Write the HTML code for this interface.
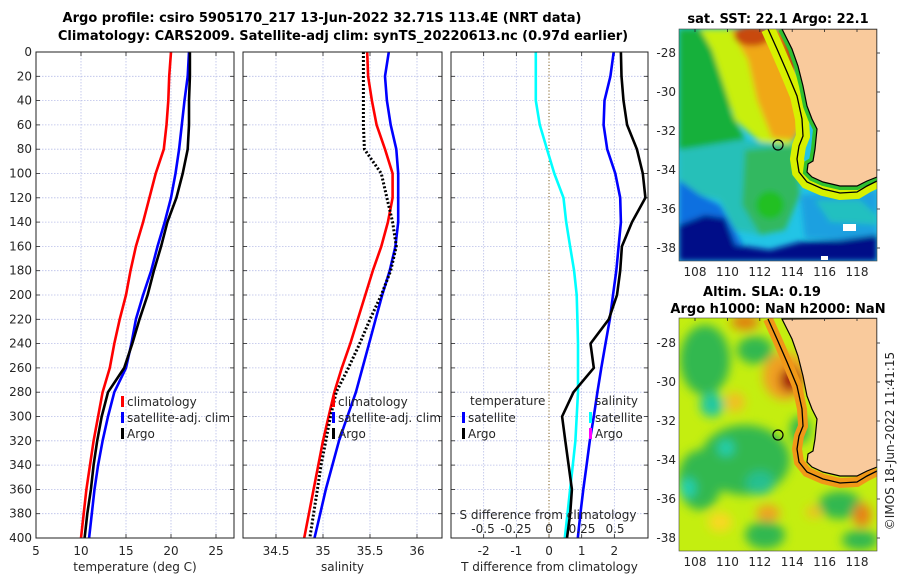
<!DOCTYPE html>
<html><head><meta charset="utf-8">
<style>
html,body{margin:0;padding:0;background:#fff;}
svg text{font-family:"DejaVu Sans","Liberation Sans",sans-serif;fill:#262626;}
.t{font-size:12px;}
.b{font-weight:bold;font-size:13px;fill:#000;}
</style></head>
<body>
<svg id="fig" width="900" height="580" viewBox="0 0 900 580" xmlns="http://www.w3.org/2000/svg">
<defs>
<filter id="bl" x="-20%" y="-20%" width="140%" height="140%"><feGaussianBlur stdDeviation="5"/></filter>
<filter id="bl2" x="-20%" y="-20%" width="140%" height="140%"><feGaussianBlur stdDeviation="3"/></filter>
<clipPath id="c1"><rect x="679" y="29" width="198" height="232"/></clipPath>
<clipPath id="c2"><rect x="679" y="318" width="198" height="233"/></clipPath>
</defs>
<text class="b" x="322" y="22" text-anchor="middle">Argo profile: csiro 5905170_217 13-Jun-2022 32.71S 113.4E (NRT data)</text>
<text class="b" x="343" y="40" text-anchor="middle">Climatology: CARS2009. Satellite-adj clim: synTS_20220613.nc (0.97d earlier)</text>
<g id="panels"></g>

<!-- SST map -->
<g>
<text class="b" x="778" y="23" text-anchor="middle">sat. SST: 22.1 Argo: 22.1</text>
<g clip-path="url(#c1)">
<rect x="679" y="29" width="198" height="232" fill="#22c4e6"/>
<g filter="url(#bl2)">
<polygon points="679,29 745,29 740,70 730,110 745,140 679,150" fill="#18b03a"/>
<polygon points="700,29 785,29 800,130 790,145 760,142 735,120 722,80 712,50" fill="#c8f010"/>
<polygon points="730,29 787,29 803,120 795,140 772,138 757,100 748,60" fill="#f0a818"/>
<ellipse cx="752" cy="36" rx="18" ry="10" fill="#c84a08"/>
<polygon points="778,29 792,29 798,70 790,70" fill="#b83a08"/>
<polygon points="679,150 740,140 790,145 800,190 790,215 760,235 735,230 720,200 679,190" fill="#28c0b8"/>
<polygon points="745,150 795,145 800,195 785,230 760,235 742,205" fill="#30b860"/>
<ellipse cx="770" cy="205" rx="14" ry="14" fill="#20c020"/>
<polygon points="679,180 700,195 720,205 735,230 745,250 679,250" fill="#1070e0"/>
<polygon points="679,225 705,215 725,218 735,245 770,250 800,242 840,240 877,232 877,261 679,261" fill="#000a88"/>
<polygon points="800,195 877,190 877,235 840,240 805,238" fill="#1aa0e0"/>
<polygon points="815,200 860,200 877,215 877,225 830,222" fill="#20c0c0"/>
</g>
<polyline points="768,29 777,49 787,72 797,96 802,119 803,136 799,146 797,159 799,172 807,182 823,189 840,193 857,192 867,186 877,181" fill="none" stroke="#d8f000" stroke-width="14"/>
<polyline points="782,29 792,49 798,66 803,86 807,106 812,119 817,129 816,139 815,149 813,161 808,164 807,172 812,177 823,182 840,186 857,186 867,181 877,177" fill="none" stroke="#30c030" stroke-width="8"/>
<polygon points="782,29 792,49 798,66 803,86 807,106 812,119 817,129 816,139 815,149 813,161 808,164 807,172 812,177 823,182 840,186 857,186 867,181 877,177 877,29" fill="#f9ca9c" stroke="#000" stroke-width="1.2"/>
<polyline points="768,29 777,49 787,72 797,96 802,119 803,136 799,146 797,159 799,172 807,182 823,189 840,193 857,192 867,186 877,181" fill="none" stroke="#000" stroke-width="1.3"/>
<rect x="843" y="224" width="13" height="7" fill="#fff"/>
<rect x="821" y="256" width="7" height="4" fill="#fff"/>
</g>
<circle cx="778" cy="145" r="5" fill="none" stroke="#000" stroke-width="1.2"/>
<rect x="679" y="29" width="198" height="232" fill="none" stroke="#444" stroke-width="0.6"/>
</g>

<!-- SLA map -->
<g>
<text class="b" x="762" y="296" text-anchor="middle">Altim. SLA: 0.19</text>
<text class="b" x="778" y="313" text-anchor="middle">Argo h1000: NaN h2000: NaN</text>
<g clip-path="url(#c2)">
<rect x="679" y="318" width="198" height="233" fill="#c4ee10"/>
<g filter="url(#bl)">
<ellipse cx="705" cy="360" rx="25" ry="35" fill="#30b850"/>
<ellipse cx="755" cy="350" rx="18" ry="14" fill="#30b850"/>
<ellipse cx="712" cy="405" rx="12" ry="12" fill="#20c8a0"/>
<ellipse cx="745" cy="460" rx="45" ry="35" fill="#30b850"/>
<ellipse cx="700" cy="480" rx="22" ry="30" fill="#30b850"/>
<ellipse cx="688" cy="488" rx="8" ry="10" fill="#20d0b0"/>
<ellipse cx="726" cy="448" rx="8" ry="8" fill="#20d0b0"/>
<ellipse cx="760" cy="483" rx="14" ry="12" fill="#28c090"/>
<ellipse cx="765" cy="535" rx="20" ry="14" fill="#30b850"/>
<ellipse cx="840" cy="505" rx="22" ry="14" fill="#30b850"/>
<ellipse cx="800" cy="430" rx="10" ry="14" fill="#30b850"/>
<ellipse cx="860" cy="540" rx="18" ry="10" fill="#30b850"/>
<ellipse cx="720" cy="522" rx="12" ry="10" fill="#f8d820"/>
<ellipse cx="745" cy="322" rx="14" ry="8" fill="#e08010"/>
<ellipse cx="785" cy="376" rx="22" ry="24" fill="#f0a020"/>
<ellipse cx="790" cy="380" rx="10" ry="12" fill="#a01010"/>
<ellipse cx="768" cy="513" rx="12" ry="8" fill="#f0a020"/>
<ellipse cx="862" cy="515" rx="9" ry="12" fill="#e88018"/>
<ellipse cx="814" cy="512" rx="8" ry="6" fill="#f0c020"/>
<ellipse cx="735" cy="402" rx="10" ry="10" fill="#f0c020"/>
</g>
<polyline points="768,319 777,339 787,362 797,386 802,409 803,426 799,436 797,449 799,462 807,472 823,479 840,483 857,482 867,476 877,471" fill="none" stroke="#f09818" stroke-width="10"/>
<polygon points="782,319 792,339 798,356 803,376 807,396 812,409 817,419 816,429 815,439 813,451 808,454 807,462 812,467 823,472 840,476 857,476 867,471 877,467 877,318" fill="#f9ca9c" stroke="#000" stroke-width="1.2"/>
<polyline points="768,319 777,339 787,362 797,386 802,409 803,426 799,436 797,449 799,462 807,472 823,479 840,483 857,482 867,476 877,471" fill="none" stroke="#000" stroke-width="1.3"/>
</g>
<circle cx="778" cy="435" r="5" fill="none" stroke="#000" stroke-width="1.2"/>
<rect x="679" y="318" width="198" height="233" fill="none" stroke="#444" stroke-width="0.6"/>
</g>
<g id="maplabels"></g>
<text class="t" transform="translate(894,441) rotate(-90)" text-anchor="middle">©IMOS 18-Jun-2022 11:41:15</text>
</svg>
<script>
// ---- data ----
const depths = [0,20,40,60,80,100,120,140,160,180,200,220,240,260,280,300,320,340,360,380,400];
const tempClim = [20,19.8,19.7,19.5,19.2,18.3,17.6,16.9,16.1,15.5,15.0,14.3,13.7,13.2,12.4,11.9,11.4,11,10.6,10.3,10];
const tempSat  = [22,21.85,21.5,21.2,20.9,20.5,20,19.3,18.5,17.8,16.9,16.1,15.6,15.0,13.7,13.0,12.4,11.9,11.5,11.2,10.9];
const tempArgo = [22.1,22.1,22.0,22.0,21.85,21.3,20.6,19.6,18.9,18.1,17.4,16.5,15.7,14.8,13.0,12.3,11.8,11.4,11.1,10.7,10.4];
const salClim = [35.47,35.48,35.52,35.57,35.66,35.74,35.74,35.69,35.62,35.53,35.45,35.37,35.29,35.2,35.12,35.06,35.0,34.95,34.9,34.85,34.8];
const salSat  = [35.7,35.66,35.68,35.72,35.78,35.8,35.8,35.8,35.77,35.71,35.63,35.56,35.49,35.42,35.35,35.26,35.17,35.1,35.03,34.97,34.91];
const salArgo = [35.43,35.43,35.43,35.43,35.44,35.62,35.68,35.74,35.78,35.72,35.62,35.5,35.39,35.27,35.14,35.08,35.03,34.98,34.94,34.9,34.86];
const tDiffSat  = [1.98,1.88,1.7,1.67,1.78,2.03,2.18,2.2,2.13,2.06,1.96,1.86,1.73,1.6,1.48,1.37,1.25,1.15,1.05,0.96,0.88];
const tDiffArgo = [2.2,2.22,2.28,2.39,2.69,2.87,2.95,2.54,2.23,2.18,2.08,1.83,1.27,1.37,0.75,0.4,0.5,0.6,0.7,0.65,0.55];
const sDiffSat  = [-0.1,-0.1,-0.1,-0.07,-0.015,0.04,0.11,0.13,0.16,0.19,0.21,0.215,0.22,0.22,0.22,0.21,0.2,0.18,0.16,0.14,0.12];
const depthTicks = [0,20,40,60,80,100,120,140,160,180,200,220,240,260,280,300,320,340,360,380,400];
const tempTicks = [5,10,15,20,25];
const salTicks = [34.5,35,35.5,36];
const tdTicks = [-2,-1,0,1,2];
const sdTicks = ['-0.5','-0.25','0','0.25','0.5'];
const lonTicks = [108,110,112,114,116,118];
const latTicks = [-28,-30,-32,-34,-36,-38];

const NS='http://www.w3.org/2000/svg';
const root=document.getElementById('panels');
function el(tag,attrs,parent){const e=document.createElementNS(NS,tag);for(const k in attrs)e.setAttribute(k,attrs[k]);(parent||root).appendChild(e);return e;}
const Y0=52,Y1=538;
const yS=d=>Y0+d*(Y1-Y0)/400;

function panel(name,x0,x1,vmin,vmax,ticks,labelPrefix,title,showY){
  const g=el('g',{});
  
  
  const xs=v=>x0+(v-vmin)*(x1-x0)/(vmax-vmin);
  depthTicks.forEach(d=>{
    const l=el('line',{x1:x0,x2:x1,y1:yS(d),y2:yS(d),stroke:'#b8bee8','stroke-width':0.8,'stroke-dasharray':'1.5,1.5'},g);
    
    
    el('line',{x1:x0,x2:x0+4,y1:yS(d),y2:yS(d),stroke:'#222','stroke-width':0.8},g);
    el('line',{x1:x1-4,x2:x1,y1:yS(d),y2:yS(d),stroke:'#222','stroke-width':0.8},g);
    if(showY){const t=el('text',{x:x0-4,y:yS(d)+4,'text-anchor':'end',class:'t'},g);t.textContent=d;
      
      }
  });
  ticks.forEach(v=>{
    const x=xs(v);
    if(!(labelPrefix==='td'&&v===0)){
      el('line',{x1:x,x2:x,y1:Y0,y2:Y1,stroke:'#b8bee8','stroke-width':0.8,'stroke-dasharray':'1.5,1.5'},g);}
    el('line',{x1:x,x2:x,y1:Y1-4,y2:Y1,stroke:'#222','stroke-width':0.8},g);
    el('line',{x1:x,x2:x,y1:Y0,y2:Y0+4,stroke:'#222','stroke-width':0.8},g);
    const t=el('text',{x:x,y:555,'text-anchor':'middle',class:'t'},g);t.textContent=v;
    
    
  });
  const tt=el('text',{x:(x0+x1)/2,y:571,'text-anchor':'middle',class:'t'},g);tt.textContent=title;
  
  
  return {g,xs};
}
function line(g,xs,vals,color,name,dash,w){
  const pts=vals.map((v,i)=>xs(v).toFixed(1)+','+yS(depths[i]).toFixed(1)).join(' ');
  const p=el('polyline',{points:pts,fill:'none',stroke:color,'stroke-width':w||2.6,'stroke-linejoin':'round'},g);
  if(dash)p.setAttribute('stroke-dasharray',dash);
  
  
}
function frame(g,x0,x1){el('rect',{x:x0,y:Y0,width:x1-x0,height:Y1-Y0,fill:'none',stroke:'#222','stroke-width':1},g);}
function leg(g,x,y,color,text,name){
  el('rect',{x:x,y:y-10,width:3,height:11,fill:color},g);
  const t=el('text',{x:x+6,y:y,class:'t'},g);t.textContent=text;
  
  
}

// Panel 1 temperature
const p1=panel('temperature-panel',36,234,5,27,tempTicks,'t','temperature (deg C)',true);
line(p1.g,p1.xs,tempClim,'#f00','temp-climatology-line');
line(p1.g,p1.xs,tempSat,'#00f','temp-satellite-line');
line(p1.g,p1.xs,tempArgo,'#000','temp-argo-line');
frame(p1.g,36,234);
leg(p1.g,121,406,'#f00','climatology','legend-climatology');
leg(p1.g,121,422,'#00f','satellite-adj. clim','legend-satellite-adj');
leg(p1.g,121,438,'#000','Argo','legend-argo');

// Panel 2 salinity
const p2=panel('salinity-panel',243,442,34.149,36.266,salTicks,'s','salinity',false);
line(p2.g,p2.xs,salClim,'#f00','sal-climatology-line');
line(p2.g,p2.xs,salSat,'#00f','sal-satellite-line');
line(p2.g,p2.xs,salArgo,'#000','sal-argo-line','2,2',3);
frame(p2.g,243,442);
leg(p2.g,332,406,'#f00','climatology','legend-climatology');
leg(p2.g,332,422,'#00f','satellite-adj. clim','legend-satellite-adj');
leg(p2.g,332,438,'#000','Argo','legend-argo');

// Panel 3 differences
const p3=panel('difference-panel',451,648,-3.0,3.03,tdTicks,'td','T difference from climatology',false);
el('line',{x1:p3.xs(0),x2:p3.xs(0),y1:Y0,y2:Y1,stroke:'#806020','stroke-width':1,'stroke-dasharray':'1.2,2'},p3.g);
const xsS=v=>p3.xs(0)+v*132;
line(p3.g,xsS,sDiffSat,'#0ff','sdiff-satellite-line');
line(p3.g,p3.xs,tDiffSat,'#00f','tdiff-satellite-line');
line(p3.g,p3.xs,tDiffArgo,'#000','tdiff-argo-line');
frame(p3.g,451,648);
(function(){const t=el('text',{x:470,y:405,class:'t'},p3.g);t.textContent='temperature';
  
  
  const s=el('text',{x:595,y:405,class:'t'},p3.g);s.textContent='salinity';
  
  })();
leg(p3.g,462,422,'#00f','satellite','legend-t-satellite');
leg(p3.g,462,438,'#000','Argo','legend-t-argo');
leg(p3.g,589,422,'#0ff','satellite','legend-s-satellite');
leg(p3.g,589,438,'#f0f','Argo','legend-s-argo');
(function(){
  const t=el('text',{x:548,y:519,'text-anchor':'middle',class:'t'},p3.g);t.textContent='S difference from climatology';
  
  
  sdTicks.forEach(s=>{const v=parseFloat(s);const tx=el('text',{x:xsS(v),y:533,'text-anchor':'middle',class:'t'},p3.g);tx.textContent=s;
    
    });
})();

// Map ticks
const ml=document.getElementById('maplabels');
const lonX=lon=>695+(lon-108)*16.2;
function mapTicks(latY,bottomY,top){
  lonTicks.forEach(lon=>{
    const t=el('text',{x:lonX(lon),y:bottomY+15,'text-anchor':'middle',class:'t'},ml);t.textContent=lon;
    
    
    el('line',{x1:lonX(lon),x2:lonX(lon),y1:top,y2:top+3,stroke:'#222','stroke-width':0.8},ml);
  });
  latTicks.forEach(lat=>{
    const y=latY(lat);
    const t=el('text',{x:676,y:y+4,'text-anchor':'end',class:'t'},ml);t.textContent=lat;
    
    
    el('line',{x1:877,x2:880,y1:y,y2:y,stroke:'#222','stroke-width':0.8},ml);
  });
}
mapTicks(lat=>53+(-28-lat)*19.5,261,29);
mapTicks(lat=>343+(-28-lat)*19.5,551,318);
</script>
</body></html>
